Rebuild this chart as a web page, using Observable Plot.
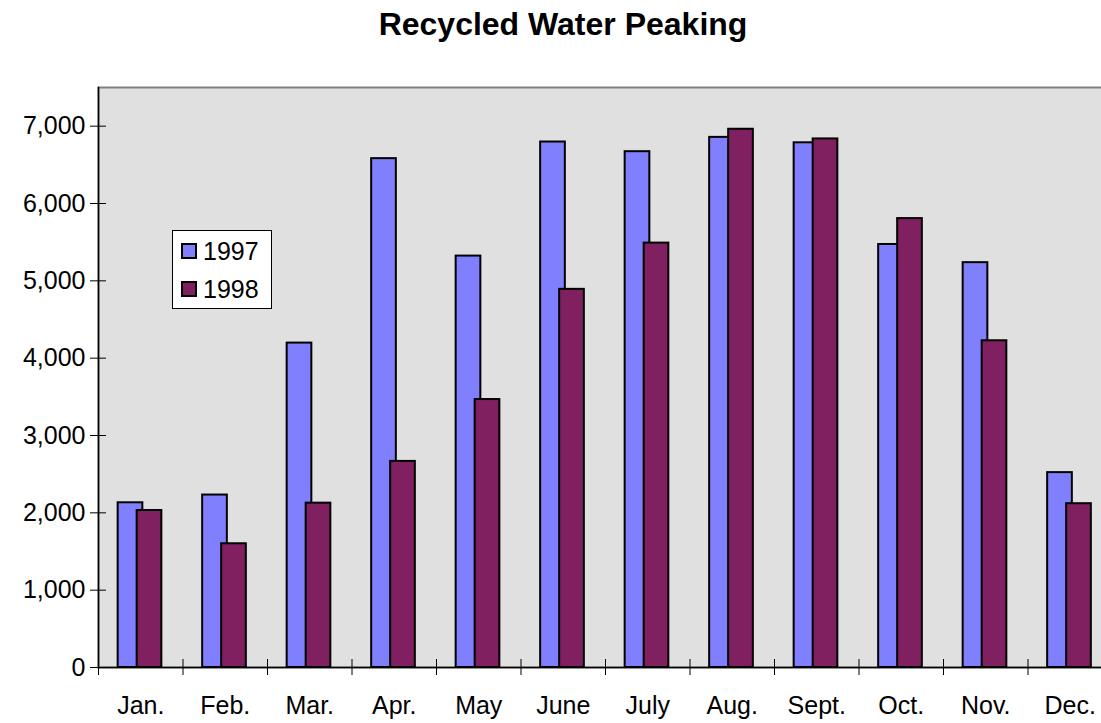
<!DOCTYPE html>
<html>
<head>
<meta charset="utf-8">
<script src="https://cdn.jsdelivr.net/npm/d3@7"></script>
<script src="https://cdn.jsdelivr.net/npm/@observablehq/plot@0.6"></script>
<style>
  html, body { margin: 0; padding: 0; background: #fff; overflow: hidden; }
  body { width: 1101px; height: 723px; position: relative; font-family: "Liberation Sans", Arial, sans-serif; }
  #title { position: absolute; top: 4px; left: 563px; transform: translateX(-50%); white-space: nowrap;
           font: bold 32px "Liberation Sans", Arial, sans-serif; line-height: 40px; color: #000; }
  #chart { position: absolute; top: 60px; left: 0; }
  #legend { position: absolute; left: 172px; top: 230px; width: 100px; height: 79px; background: #fff;
            border: 1px solid #000; box-sizing: border-box; font: 25px "Liberation Sans", Arial, sans-serif; }
  .item { position: absolute; left: 8px; height: 30px; line-height: 30px; }
  .sw { position: absolute; left: 0; top: 7px; width: 16px; height: 16px; border: 2px solid #000; box-sizing: border-box; }
  .lab { position: absolute; left: 22px; top: 0; }
</style>
</head>
<body>
<div id="title">Recycled Water Peaking</div>
<div id="chart"></div>
<div id="legend"></div>
<script>
const months = ["Jan.", "Feb.", "Mar.", "Apr.", "May", "June", "July", "Aug.", "Sept.", "Oct.", "Nov.", "Dec."];
const series = ["1997", "1998"];
const values1997 = [2130, 2230, 4195, 6580, 5320, 6795, 6670, 6855, 6785, 5470, 5235, 2520];
const values1998 = [2030, 1600, 2125, 2665, 3465, 4890, 5488, 6960, 6835, 5805, 4225, 2118];
const colors = ["#8080FF", "#802060"];
const yTicks = [0, 1000, 2000, 3000, 4000, 5000, 6000, 7000];

const data1997 = months.map((m, i) => ({month: m, value: values1997[i], series: series[0]}));
const data1998 = months.map((m, i) => ({month: m, value: values1998[i], series: series[1]}));

const fontFamily = '"Liberation Sans", Arial, sans-serif';

const chart = Plot.plot({
  width: 1101,
  height: 663,
  marginTop: 27,
  marginBottom: 56,
  marginLeft: 98,
  marginRight: -11,
  style: {fontFamily, fontSize: "25px", color: "#000", background: "transparent", overflow: "hidden"},
  x: {type: "band", domain: months, paddingInner: 0.708, paddingOuter: 0.354, round: false, label: null},
  y: {domain: [0, 7500], label: null},
  color: {domain: series, range: colors},
  marks: [
    Plot.frame({fill: "#e0e0e0", stroke: "#808080", strokeWidth: 2}),
    Plot.barY(data1997, {x: "month", y: "value", fill: "series", stroke: "#000", strokeWidth: 2, dx: -10.25}),
    Plot.barY(data1998, {x: "month", y: "value", fill: "series", stroke: "#000", strokeWidth: 2, dx: 8.75}),
    Plot.ruleY([0], {stroke: "#000", strokeWidth: 1.5}),
    Plot.frame({anchor: "left", stroke: "#000", strokeWidth: 1.5}),
    Plot.axisY({ticks: yTicks, tickSize: 16, dx: 8, text: null, stroke: "#000", strokeWidth: 1}),
    Plot.axisY({ticks: yTicks, tickSize: 0, tickPadding: 13, tickFormat: d3.format(","), label: null, fontSize: 25}),
    Plot.axisX({ticks: months, tickSize: 16, dy: -8, dx: -42.25, text: null, stroke: "#000", strokeWidth: 1}),
    Plot.axisX({ticks: months, tickSize: 0, tickPadding: 29, label: null, fontSize: 25})
  ]
});
document.getElementById("chart").appendChild(chart);

const legend = document.getElementById("legend");
series.forEach((s, i) => {
  const item = document.createElement("div");
  item.className = "item";
  item.style.top = (5 + i * 38) + "px";
  item.innerHTML = `<div class="sw" style="background:${colors[i]}"></div><div class="lab">${s}</div>`;
  legend.appendChild(item);
});
</script>
</body>
</html>
